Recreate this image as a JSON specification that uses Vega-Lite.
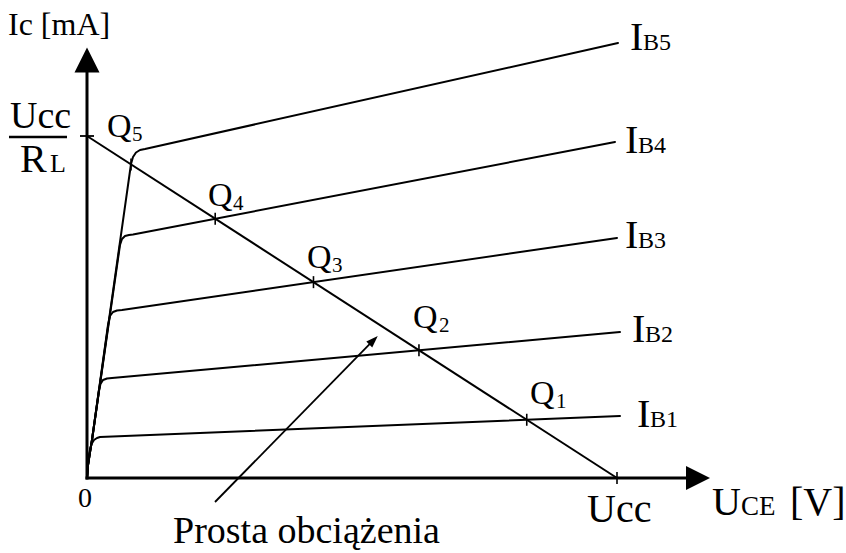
{
  "$schema": "https://vega.github.io/schema/vega-lite/v6.json",
  "width": 846,
  "height": 553,
  "autosize": {"type": "none"},
  "padding": 0,
  "background": "white",
  "config": {"view": {"stroke": null}},
  "datasets": {
    "curves": [
      {"s": "IB1", "i": 0, "x": 0, "y": 0},
      {"s": "IB1", "i": 1, "x": 0.0189, "y": 0.3801},
      {"s": "IB1", "i": 2, "x": 0.0472, "y": 0.7602},
      {"s": "IB1", "i": 3, "x": 0.0849, "y": 0.9942},
      {"s": "IB1", "i": 4, "x": 0.1321, "y": 1.1111},
      {"s": "IB1", "i": 5, "x": 0.1887, "y": 1.1696},
      {"s": "IB1", "i": 6, "x": 0.2453, "y": 1.1988},
      {"s": "IB1", "i": 7, "x": 10.0566, "y": 1.8129},
      {"s": "IB2", "i": 0, "x": 0, "y": 0},
      {"s": "IB2", "i": 1, "x": 0.0189, "y": 0.3801},
      {"s": "IB2", "i": 2, "x": 0.0566, "y": 0.7602},
      {"s": "IB2", "i": 3, "x": 0.0943, "y": 1.1111},
      {"s": "IB2", "i": 4, "x": 0.2264, "y": 2.5731},
      {"s": "IB2", "i": 5, "x": 0.2547, "y": 2.7485},
      {"s": "IB2", "i": 6, "x": 0.3019, "y": 2.8655},
      {"s": "IB2", "i": 7, "x": 0.3774, "y": 2.9094},
      {"s": "IB2", "i": 8, "x": 0.4717, "y": 2.924},
      {"s": "IB2", "i": 9, "x": 10.0566, "y": 4.269},
      {"s": "IB3", "i": 0, "x": 0, "y": 0},
      {"s": "IB3", "i": 1, "x": 0.0189, "y": 0.3801},
      {"s": "IB3", "i": 2, "x": 0.0566, "y": 0.7602},
      {"s": "IB3", "i": 3, "x": 0.0943, "y": 1.1111},
      {"s": "IB3", "i": 4, "x": 0.3962, "y": 4.4737},
      {"s": "IB3", "i": 5, "x": 0.434, "y": 4.7368},
      {"s": "IB3", "i": 6, "x": 0.4906, "y": 4.8538},
      {"s": "IB3", "i": 7, "x": 0.566, "y": 4.8977},
      {"s": "IB3", "i": 8, "x": 0.6604, "y": 4.9123},
      {"s": "IB3", "i": 9, "x": 10.0, "y": 7.0175},
      {"s": "IB4", "i": 0, "x": 0, "y": 0},
      {"s": "IB4", "i": 1, "x": 0.0189, "y": 0.3801},
      {"s": "IB4", "i": 2, "x": 0.0566, "y": 0.7602},
      {"s": "IB4", "i": 3, "x": 0.0943, "y": 1.1111},
      {"s": "IB4", "i": 4, "x": 0.6226, "y": 6.8129},
      {"s": "IB4", "i": 5, "x": 0.6604, "y": 6.9883},
      {"s": "IB4", "i": 6, "x": 0.717, "y": 7.076},
      {"s": "IB4", "i": 7, "x": 0.7925, "y": 7.1053},
      {"s": "IB4", "i": 8, "x": 0.8679, "y": 7.1199},
      {"s": "IB4", "i": 9, "x": 9.9623, "y": 9.8246},
      {"s": "IB5", "i": 0, "x": 0, "y": 0},
      {"s": "IB5", "i": 1, "x": 0.0189, "y": 0.3801},
      {"s": "IB5", "i": 2, "x": 0.0566, "y": 0.7602},
      {"s": "IB5", "i": 3, "x": 0.0943, "y": 1.1111},
      {"s": "IB5", "i": 4, "x": 0.8302, "y": 9.1813},
      {"s": "IB5", "i": 5, "x": 0.8679, "y": 9.386},
      {"s": "IB5", "i": 6, "x": 0.9245, "y": 9.5175},
      {"s": "IB5", "i": 7, "x": 1.0, "y": 9.5906},
      {"s": "IB5", "i": 8, "x": 1.0943, "y": 9.6199},
      {"s": "IB5", "i": 9, "x": 10.0189, "y": 12.7193}
    ],
    "rules": [
      {"g": "axis", "x": 0, "y": 0, "x2": 0, "y2": 12.1637},
      {"g": "axis", "x": 0, "y": 0, "x2": 11.3774, "y2": 0},
      {"g": "load", "x": 0, "y": 10, "x2": 10, "y2": 0},
      {"g": "ptr", "x": 2.4151, "y": -0.7018, "x2": 5.4057, "y2": 4.0292},
      {"g": "frac", "x": -1.4717, "y": 9.9708, "x2": -0.3774, "y2": 9.9708}
    ],
    "ticks": [
      {"g": "v", "x": 8.2972, "y": 1.7028},
      {"g": "v", "x": 6.2633, "y": 3.7367},
      {"g": "v", "x": 4.2733, "y": 5.7267},
      {"g": "v", "x": 2.4188, "y": 7.5812},
      {"g": "v", "x": 0.8302, "y": 9.1698},
      {"g": "v", "x": 10, "y": 0},
      {"g": "h", "x": 0, "y": 10}
    ],
    "arrows": [
      {"g": "up", "x": 0, "y": 12.2222},
      {"g": "right", "x": 11.5283, "y": 0},
      {"g": "ptr", "x": 5.4057, "y": 4.0292}
    ],
    "texts": [
      {"g": "f32", "t": "Ic [mA]", "x": -1.4906, "y": 12.9532},
      {"g": "f38", "t": "Ucc", "x": -1.4528, "y": 10.2339},
      {"g": "f40", "t": "R", "x": -1.2642, "y": 8.9474},
      {"g": "f26", "t": "L", "x": -0.6981, "y": 8.9474},
      {"g": "f28c", "t": "0", "x": -0.0377, "y": -0.848},
      {"g": "f40", "t": "Ucc", "x": 9.434, "y": -1.2865},
      {"g": "f40", "t": "U", "x": 11.7925, "y": -1.0819},
      {"g": "f27", "t": "CE", "x": 12.3396, "y": -1.0819},
      {"g": "f40", "t": "[V]", "x": 13.2642, "y": -1.0819},
      {"g": "f38", "t": "Prosta obciążenia", "x": 1.6226, "y": -1.9006},
      {"g": "f40", "t": "I", "x": 10.2453, "y": 12.5146},
      {"g": "f24", "t": "B5", "x": 10.4906, "y": 12.5146},
      {"g": "f40", "t": "I", "x": 10.1509, "y": 9.5029},
      {"g": "f24", "t": "B4", "x": 10.3962, "y": 9.5029},
      {"g": "f40", "t": "I", "x": 10.1509, "y": 6.7251},
      {"g": "f24", "t": "B3", "x": 10.3962, "y": 6.7251},
      {"g": "f40", "t": "I", "x": 10.283, "y": 3.9766},
      {"g": "f24", "t": "B2", "x": 10.5283, "y": 3.9766},
      {"g": "f40", "t": "I", "x": 10.3774, "y": 1.4912},
      {"g": "f24", "t": "B1", "x": 10.6226, "y": 1.4912},
      {"g": "f34", "t": "Q", "x": 0.3774, "y": 9.9708},
      {"g": "f21", "t": "5", "x": 0.8491, "y": 9.8538},
      {"g": "f34", "t": "Q", "x": 2.283, "y": 7.9532},
      {"g": "f21", "t": "4", "x": 2.7547, "y": 7.8363},
      {"g": "f34", "t": "Q", "x": 4.1509, "y": 6.1404},
      {"g": "f21", "t": "3", "x": 4.6226, "y": 6.0234},
      {"g": "f34", "t": "Q", "x": 6.1509, "y": 4.386},
      {"g": "f21", "t": "2", "x": 6.6415, "y": 4.269},
      {"g": "f34", "t": "Q", "x": 8.3585, "y": 2.1637},
      {"g": "f21", "t": "1", "x": 8.8491, "y": 2.0468}
    ]
  },
  "encoding": {
    "x": {"field": "x", "type": "quantitative", "axis": null, "scale": {"domain": [-1.64151, 14.32075], "nice": false, "zero": false}},
    "y": {"field": "y", "type": "quantitative", "axis": null, "scale": {"domain": [-2.19298, 13.97661], "nice": false, "zero": false}}
  },
  "layer": [
    {
      "data": {"name": "curves"},
      "mark": {"type": "line", "color": "black", "strokeWidth": 2, "strokeJoin": "round", "strokeCap": "round"},
      "encoding": {"detail": {"field": "s"}, "order": {"field": "i", "type": "quantitative"}}
    },
    {
      "data": {"name": "rules"},
      "transform": [{"filter": "datum.g == 'axis'"}],
      "mark": {"type": "rule", "color": "black", "strokeWidth": 3, "strokeCap": "square"},
      "encoding": {"x2": {"field": "x2"}, "y2": {"field": "y2"}}
    },
    {
      "data": {"name": "rules"},
      "transform": [{"filter": "datum.g == 'load'"}],
      "mark": {"type": "rule", "color": "black", "strokeWidth": 2},
      "encoding": {"x2": {"field": "x2"}, "y2": {"field": "y2"}}
    },
    {
      "data": {"name": "rules"},
      "transform": [{"filter": "datum.g == 'ptr'"}],
      "mark": {"type": "rule", "color": "black", "strokeWidth": 1.8},
      "encoding": {"x2": {"field": "x2"}, "y2": {"field": "y2"}}
    },
    {
      "data": {"name": "rules"},
      "transform": [{"filter": "datum.g == 'frac'"}],
      "mark": {"type": "rule", "color": "black", "strokeWidth": 2.5},
      "encoding": {"x2": {"field": "x2"}, "y2": {"field": "y2"}}
    },
    {
      "data": {"name": "ticks"},
      "transform": [{"filter": "datum.g == 'v'"}],
      "mark": {"type": "tick", "orient": "vertical", "size": 12, "thickness": 1.6, "color": "black", "opacity": 1},
      "encoding": {}
    },
    {
      "data": {"name": "ticks"},
      "transform": [{"filter": "datum.g == 'h'"}],
      "mark": {"type": "tick", "orient": "horizontal", "size": 14, "thickness": 1.8, "color": "black", "opacity": 1},
      "encoding": {}
    },
    {
      "data": {"name": "arrows"},
      "transform": [{"filter": "datum.g == 'up'"}],
      "mark": {"type": "point", "shape": "M0,-1L1,1L-1,1Z", "size": 625, "filled": true, "color": "black", "opacity": 1, "strokeWidth": 0},
      "encoding": {}
    },
    {
      "data": {"name": "arrows"},
      "transform": [{"filter": "datum.g == 'right'"}],
      "mark": {"type": "point", "shape": "M1,0L-1,-1L-1,1Z", "size": 576, "filled": true, "color": "black", "opacity": 1, "strokeWidth": 0},
      "encoding": {}
    },
    {
      "data": {"name": "arrows"},
      "transform": [{"filter": "datum.g == 'ptr'"}],
      "mark": {"type": "point", "shape": "M0,-1L0.7,1L-0.7,1Z", "size": 144, "angle": 45, "filled": true, "color": "black", "opacity": 1, "strokeWidth": 0},
      "encoding": {}
    },
    {
      "data": {"name": "texts"},
      "transform": [{"filter": "datum.g == 'f40'"}],
      "mark": {"type": "text", "font": "Liberation Serif", "fontSize": 40, "align": "left", "baseline": "alphabetic", "color": "black"},
      "encoding": {"text": {"field": "t"}}
    },
    {
      "data": {"name": "texts"},
      "transform": [{"filter": "datum.g == 'f38'"}],
      "mark": {"type": "text", "font": "Liberation Serif", "fontSize": 38, "align": "left", "baseline": "alphabetic", "color": "black"},
      "encoding": {"text": {"field": "t"}}
    },
    {
      "data": {"name": "texts"},
      "transform": [{"filter": "datum.g == 'f34'"}],
      "mark": {"type": "text", "font": "Liberation Serif", "fontSize": 34, "align": "left", "baseline": "alphabetic", "color": "black"},
      "encoding": {"text": {"field": "t"}}
    },
    {
      "data": {"name": "texts"},
      "transform": [{"filter": "datum.g == 'f32'"}],
      "mark": {"type": "text", "font": "Liberation Serif", "fontSize": 32, "align": "left", "baseline": "alphabetic", "color": "black"},
      "encoding": {"text": {"field": "t"}}
    },
    {
      "data": {"name": "texts"},
      "transform": [{"filter": "datum.g == 'f27'"}],
      "mark": {"type": "text", "font": "Liberation Serif", "fontSize": 27, "align": "left", "baseline": "alphabetic", "color": "black"},
      "encoding": {"text": {"field": "t"}}
    },
    {
      "data": {"name": "texts"},
      "transform": [{"filter": "datum.g == 'f26'"}],
      "mark": {"type": "text", "font": "Liberation Serif", "fontSize": 26, "align": "left", "baseline": "alphabetic", "color": "black"},
      "encoding": {"text": {"field": "t"}}
    },
    {
      "data": {"name": "texts"},
      "transform": [{"filter": "datum.g == 'f24'"}],
      "mark": {"type": "text", "font": "Liberation Serif", "fontSize": 24, "align": "left", "baseline": "alphabetic", "color": "black"},
      "encoding": {"text": {"field": "t"}}
    },
    {
      "data": {"name": "texts"},
      "transform": [{"filter": "datum.g == 'f21'"}],
      "mark": {"type": "text", "font": "Liberation Serif", "fontSize": 21, "align": "left", "baseline": "alphabetic", "color": "black"},
      "encoding": {"text": {"field": "t"}}
    },
    {
      "data": {"name": "texts"},
      "transform": [{"filter": "datum.g == 'f28c'"}],
      "mark": {"type": "text", "font": "Liberation Serif", "fontSize": 28, "align": "center", "baseline": "alphabetic", "color": "black"},
      "encoding": {"text": {"field": "t"}}
    }
  ]
}
